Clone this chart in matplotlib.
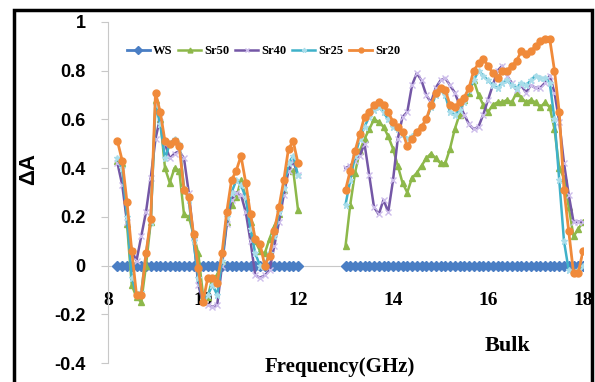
import numpy as np
import matplotlib
matplotlib.use("Agg")
import matplotlib.pyplot as plt
from matplotlib.patches import Rectangle

# frequency points (GHz), two measured bands
freq_low = [8.2, 8.3, 8.4, 8.5, 8.6, 8.7, 8.8, 8.9,
            9.0, 9.1, 9.2, 9.3, 9.4, 9.5, 9.6, 9.7, 9.8, 9.9,
            10.0, 10.1, 10.2, 10.3, 10.4, 10.5, 10.6, 10.7, 10.8, 10.9,
            11.0, 11.1, 11.2, 11.3, 11.4, 11.5, 11.6, 11.7, 11.8, 11.9, 12.0]
freq_high = [13.0, 13.1, 13.2, 13.3, 13.4, 13.5, 13.6, 13.7, 13.8, 13.9,
             14.0, 14.1, 14.2, 14.3, 14.4, 14.5, 14.6, 14.7, 14.8, 14.9,
             15.0, 15.1, 15.2, 15.3, 15.4, 15.5, 15.6, 15.7, 15.8, 15.9,
             16.0, 16.1, 16.2, 16.3, 16.4, 16.5, 16.6, 16.7, 16.8, 16.9,
             17.0, 17.1, 17.2, 17.3, 17.4, 17.5, 17.6, 17.7, 17.8, 17.9, 18.0]

ws_low = [0.0] * 39
ws_high = [0.0] * 51

sr50_low = [0.43, 0.42, 0.17, -0.08, -0.13, -0.15, 0.00, 0.18,
            0.68, 0.60, 0.40, 0.34, 0.40, 0.39, 0.21, 0.20, 0.13, 0.05,
            -0.12, -0.13, -0.05, -0.04, 0.02, 0.18, 0.25, 0.28, 0.35, 0.28,
            0.18, 0.10, 0.06, 0.05, 0.11, 0.16, 0.21, 0.31, 0.40, 0.39, 0.23]
sr50_high = [0.08, 0.25, 0.38, 0.47, 0.52, 0.56, 0.60, 0.59, 0.57, 0.53,
             0.48, 0.41, 0.34, 0.30, 0.36, 0.38, 0.41, 0.44, 0.46, 0.44,
             0.42, 0.42, 0.48, 0.56, 0.62, 0.68, 0.71, 0.76, 0.70, 0.66,
             0.63, 0.66, 0.67, 0.67, 0.68, 0.67, 0.71, 0.69, 0.67, 0.68,
             0.67, 0.65, 0.67, 0.65, 0.56, 0.40, 0.36, 0.24, 0.12, 0.15, 0.18]

sr40_low = [0.42, 0.33, 0.18, 0.06, 0.02, 0.12, 0.22, 0.36,
            0.52, 0.61, 0.50, 0.44, 0.46, 0.47, 0.44, 0.30, 0.12, -0.08,
            -0.15, -0.16, -0.17, -0.16, 0.00, 0.17, 0.27, 0.30, 0.29, 0.22,
            0.10, -0.04, -0.05, -0.04, -0.02, 0.08, 0.18, 0.29, 0.39, 0.43, 0.37]
sr40_high = [0.40, 0.41, 0.43, 0.45, 0.50, 0.37, 0.24, 0.21, 0.27, 0.22,
             0.35, 0.52, 0.61, 0.63, 0.74, 0.79, 0.76, 0.70, 0.67, 0.73,
             0.76, 0.77, 0.74, 0.71, 0.66, 0.62, 0.58, 0.56, 0.57, 0.62,
             0.68, 0.74, 0.80, 0.82, 0.78, 0.75, 0.72, 0.74, 0.71, 0.74,
             0.73, 0.73, 0.75, 0.78, 0.71, 0.59, 0.42, 0.29, 0.18, 0.18, 0.18]

sr25_low = [0.44, 0.40, 0.20, -0.05, -0.12, -0.11, 0.05, 0.18,
            0.66, 0.58, 0.44, 0.50, 0.52, 0.50, 0.32, 0.27, 0.10, -0.05,
            -0.14, -0.12, -0.08, -0.12, 0.02, 0.20, 0.30, 0.35, 0.33, 0.28,
            0.15, 0.05, 0.00, 0.00, 0.05, 0.12, 0.22, 0.32, 0.42, 0.45, 0.37]
sr25_high = [0.25, 0.35, 0.45, 0.52, 0.57, 0.61, 0.64, 0.65, 0.63, 0.60,
             0.57, 0.56, 0.54, 0.52, 0.53, 0.55, 0.57, 0.60, 0.65, 0.70,
             0.72, 0.70, 0.63, 0.62, 0.64, 0.67, 0.72, 0.76, 0.80, 0.78,
             0.76, 0.74, 0.73, 0.75, 0.76, 0.74, 0.73, 0.75, 0.74, 0.76,
             0.78, 0.77, 0.77, 0.75, 0.60, 0.35, 0.10, -0.02, -0.03, -0.02, 0.00]

sr20_low = [0.51, 0.43, 0.26, 0.06, -0.12, -0.12, 0.05, 0.19,
            0.71, 0.63, 0.51, 0.50, 0.51, 0.49, 0.31, 0.28, 0.13, -0.01,
            -0.15, -0.05, -0.05, -0.07, 0.05, 0.22, 0.35, 0.39, 0.45, 0.34,
            0.21, 0.11, 0.09, 0.00, 0.04, 0.14, 0.24, 0.35, 0.48, 0.51, 0.42]
sr20_high = [0.31, 0.39, 0.47, 0.54, 0.61, 0.63, 0.66, 0.67, 0.66, 0.63,
             0.59, 0.57, 0.55, 0.49, 0.52, 0.55, 0.57, 0.60, 0.66, 0.71,
             0.73, 0.72, 0.66, 0.65, 0.67, 0.69, 0.73, 0.80, 0.83, 0.85,
             0.82, 0.79, 0.77, 0.80, 0.80, 0.82, 0.84, 0.88, 0.87, 0.88,
             0.90, 0.92, 0.93, 0.93, 0.80, 0.63, 0.31, 0.14, -0.03, -0.03, 0.06]

labels = ["WS", "Sr50", "Sr40", "Sr25", "Sr20"]
yticks = [-0.4, -0.2, 0, 0.2, 0.4, 0.6, 0.8, 1]
ytick_labels = ["-0.4", "-0.2", "0", "0.2", "0.4", "0.6", "0.8", "1"]
xticks = [8, 10, 12, 14, 16, 18]


def join(a, b):
    # NaN between the bands so the line breaks at 12-13 GHz
    return np.concatenate([np.array(a, float), [np.nan], np.array(b, float)])


x = join(freq_low, freq_high)
series = [join(ws_low, ws_high), join(sr50_low, sr50_high), join(sr40_low, sr40_high),
          join(sr25_low, sr25_high), join(sr20_low, sr20_high)]

styles = [
    dict(color="#4A7EC4", marker="D", ms=5.5, mfc="#4A7EC4", mec="#4A7EC4", lw=2),
    dict(color="#8DB84A", marker="^", ms=5, mfc="#8DB84A", mec="#8DB84A", lw=1.8),
    dict(color="#7457A6", marker="x", ms=5, mec="#CDBDEB", mew=1, lw=1.8),
    dict(color="#3FB1C9", marker="*", ms=5, mfc="#A9DDEA", mec="#A9DDEA", lw=1.8),
    dict(color="#F08A3A", marker="o", ms=5, mfc="#F08A3A", mec="#F08A3A", lw=2),
]

serif = "Liberation Serif"
sans = "Liberation Sans"

fig = plt.figure(figsize=(5.95, 3.82), dpi=100)
ax = fig.add_axes([108 / 595, 19 / 382, 475 / 595, 341 / 382])

for y, lab, st in zip(series, labels, styles):
    ax.plot(x, y, label=lab, **st)

ax.set_xlim(8, 18)
ax.set_ylim(-0.4, 1.0)

for s in ["top", "right"]:
    ax.spines[s].set_visible(False)
ax.spines["left"].set_color("#C8C8C8")
ax.spines["bottom"].set_color("#C8C8C8")
ax.spines["bottom"].set_position(("data", 0))
ax.spines["bottom"].set_zorder(0)

ax.set_yticks(yticks)
ax.set_yticklabels(ytick_labels, fontfamily=sans, fontweight="bold", fontsize=13)
ax.tick_params(axis="y", length=5, color="#C8C8C8", pad=11)
ax.set_xticks(xticks)
ax.set_xticklabels([str(t) for t in xticks], fontfamily=serif, fontweight="bold", fontsize=14)
ax.tick_params(axis="x", length=0, pad=19)

fig.text(29 / 595, 1 - 169 / 382, "ΔA", rotation=90, ha="center", va="center",
         fontfamily=sans, fontweight="bold", fontsize=16)
fig.text(340 / 595, 1 - 367 / 382, "Frequency(GHz)", ha="center", va="center",
         fontfamily=serif, fontweight="bold", fontsize=15)
fig.text(508 / 595, 1 - 346 / 382, "Bulk", ha="center", va="center",
         fontfamily=serif, fontweight="bold", fontsize=16)

fig.legend(loc="center left", bbox_to_anchor=(127 / 595, 1 - 51 / 382),
           bbox_transform=fig.transFigure, ncol=5, frameon=False,
           prop={"family": serif, "weight": "bold", "size": 9},
           handlelength=1.8, handletextpad=0.25, columnspacing=0.5,
           borderpad=0, borderaxespad=0, markerscale=0.7)

# black frame around the picture
fig.patches.append(Rectangle((14 / 595, -0.1), 578 / 595, 1.1 - 10 / 382,
                             transform=fig.transFigure, fill=False, ec="black", lw=2.5))

fig.savefig("out.png", dpi=100)
